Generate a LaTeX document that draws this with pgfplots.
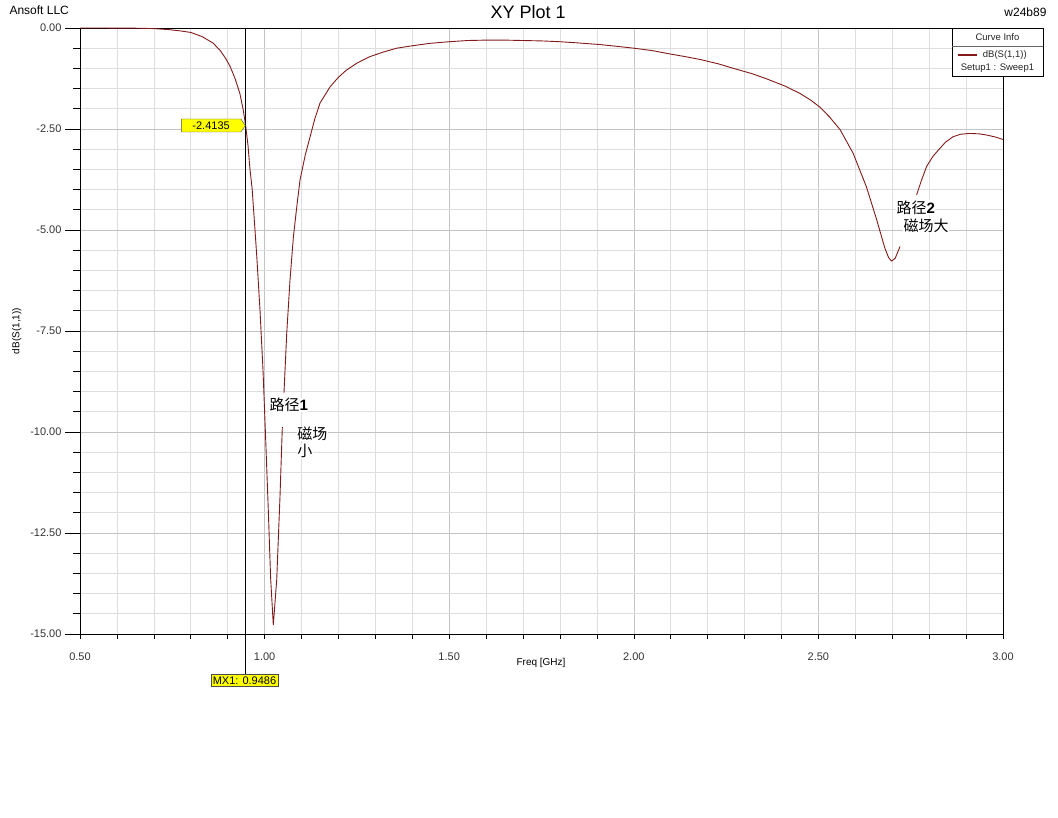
\documentclass[border=0pt]{standalone}
\usepackage{pgfplots}
\usepackage{pgfplotstable}
\pgfplotsset{compat=1.18}
\usepackage{fontspec}
\setmainfont{Liberation Sans}
\newfontfamily\cjk{Noto Sans CJK SC}
\usetikzlibrary{shapes.symbols}
\definecolor{curve}{RGB}{130,26,26}
\definecolor{mgrid}{RGB}{195,195,195}
\definecolor{ngrid}{RGB}{222,222,222}
\definecolor{mkyellow}{RGB}{255,255,0}

\pgfplotstableread{
f db
0.50 0.000
0.55 -0.001
0.60 -0.002
0.65 -0.005
0.70 -0.015
0.74 -0.04
0.77 -0.07
0.80 -0.11
0.83 -0.21
0.86 -0.37
0.88 -0.56
0.895 -0.76
0.906 -0.94
0.92 -1.25
0.933 -1.62
0.942 -2.02
0.9486 -2.4135
0.955 -2.90
0.9604 -3.50
0.966 -3.95
0.974 -5.00
0.9794 -5.74
0.9875 -6.98
0.9957 -8.47
1.003 -10.20
1.010 -11.93
1.0163 -13.61
1.0236 -14.78
1.0328 -13.66
1.0417 -11.60
1.048 -9.88
nan nan
1.0525 -9.03
1.060 -7.55
1.0688 -6.24
1.078 -5.17
1.0875 -4.40
1.096 -3.76
1.110 -3.15
1.123 -2.70
1.136 -2.25
1.150 -1.86
1.177 -1.46
1.200 -1.22
1.222 -1.04
1.250 -0.87
1.285 -0.71
1.320 -0.60
1.358 -0.50
1.400 -0.44
1.448 -0.38
1.500 -0.34
1.550 -0.31
1.600 -0.30
1.650 -0.30
1.700 -0.31
1.750 -0.32
1.800 -0.34
1.850 -0.37
1.908 -0.41
1.950 -0.45
2.000 -0.50
2.050 -0.56
2.090 -0.63
2.140 -0.71
2.180 -0.78
2.230 -0.89
2.270 -1.00
2.320 -1.13
2.360 -1.26
2.410 -1.44
2.450 -1.62
2.480 -1.79
2.504 -1.96
2.530 -2.20
2.559 -2.52
2.594 -3.10
2.630 -3.93
2.658 -4.75
2.680 -5.45
2.690 -5.68
2.698 -5.77
2.708 -5.70
2.721 -5.41
nan nan
2.766 -4.13
2.780 -3.75
2.793 -3.43
2.810 -3.18
2.829 -2.98
2.845 -2.82
2.865 -2.69
2.885 -2.63
2.910 -2.61
2.935 -2.62
2.956 -2.65
2.980 -2.70
3.000 -2.76
}\curvedata

\begin{document}
\begin{tikzpicture}
\path[use as bounding box] (0,0) rectangle (1058pt,818pt);
\begin{axis}[
  at={(80pt,184pt)}, anchor=south west,
  scale only axis, width=923pt, height=606pt,
  xmin=0.5, xmax=3, ymin=-15, ymax=0,
  xtick={0.5,1,...,3}, ytick={-15,-12.5,...,0},
  minor x tick num=4, minor y tick num=4,
  xtick pos=lower, ytick pos=left,
  grid=both,
  major grid style={mgrid, line width=0.6pt},
  minor grid style={ngrid, line width=0.6pt},
  tick align=outside,
  major tick length=15pt, minor tick length=7pt,
  xtick style={black, line width=0.6pt, /pgfplots/major tick length=5pt, /pgfplots/minor tick length=5pt},
  ytick style={black, line width=0.6pt},
  axis line style={black, line width=0.9pt},
  xticklabel style={/pgf/number format/.cd, fixed, fixed zerofill, precision=2, assume math mode=true},
  yticklabel style={/pgf/number format/.cd, fixed, fixed zerofill, precision=2, assume math mode=true},
  ticklabel style={font=\fontsize{11}{13}\selectfont, text=black!80},
  scaled ticks=false,
  xlabel={Freq [GHz]},
  xlabel style={at={(axis description cs:0.4995,-0.047)}, anchor=center, font=\fontsize{10}{12}\selectfont},
  ylabel={dB(S(1,1))},
  ylabel style={at={(axis description cs:-0.0685,0.5)}, anchor=center, font=\fontsize{10}{12}\selectfont},
  title={XY Plot 1},
  title style={at={(axis description cs:0.4855,1.0255)}, anchor=center, yshift=-6pt, font=\fontsize{18}{20}\selectfont},
  unbounded coords=jump,
  clip=false,
]
\addplot[curve, line width=0.9pt] table[x=f, y=db] {\curvedata};

% marker line
\draw[black, line width=0.8pt] (axis cs:0.9486,0) -- (axis cs:0.9486,-16.0);
\node[signal, signal to=east, signal pointer angle=110, fill=mkyellow, draw=black!70, line width=0.4pt,
      inner sep=1pt, minimum width=64pt, minimum height=13pt, anchor=east,
      font=\fontsize{11}{12}\selectfont] at (axis cs:0.9486,-2.4135) {-2.4135};
\node[fill=mkyellow, draw=black!70, line width=0.4pt, inner xsep=2pt, inner ysep=2pt, font=\fontsize{11}{12}\selectfont,
      anchor=north] at (axis cs:0.9456,-16.0) {MX1: 0.9486};

% annotations
\node[fill=white, inner sep=0.5pt, anchor=west, font=\fontsize{15}{16}\selectfont] at (axis cs:1.0115,-9.33) {{\cjk 路径}\textbf{1}};
\node[fill=white, inner sep=0.5pt, anchor=west, font=\fontsize{15}{16}\selectfont] at (axis cs:1.087,-10.05) {\cjk 磁场};
\node[fill=white, inner sep=0.5pt, anchor=west, font=\fontsize{15}{16}\selectfont] at (axis cs:1.087,-10.47) {\cjk 小};
\node[fill=white, inner sep=0.5pt, anchor=west, font=\fontsize{15}{16}\selectfont] at (axis cs:2.710,-4.45) {{\cjk 路径}\textbf{2}};
\node[fill=white, inner sep=0.5pt, anchor=west, font=\fontsize{15}{16}\selectfont] at (axis cs:2.729,-4.90) {\cjk 磁场大};

% legend box
\draw[black, fill=white, line width=0.6pt] (axis cs:2.862,0) rectangle (axis cs:3.108,-1.188);
\draw[black!60, line width=0.5pt] (axis cs:2.862,-0.446) -- (axis cs:3.108,-0.446);
\node[font=\fontsize{9.5}{10}\selectfont, text=black!85] at (axis cs:2.985,-0.223) {Curve Info};
\draw[curve, line width=1.6pt] (axis cs:2.878,-0.668) -- (axis cs:2.930,-0.668);
\node[font=\fontsize{9.5}{10}\selectfont, text=black!85, anchor=west] at (axis cs:2.936,-0.668) {dB(S(1,1))};
\node[font=\fontsize{9.5}{10}\selectfont, text=black!85] at (axis cs:2.985,-0.99) {Setup1 : Sweep1};

% corner texts
\node[anchor=west, font=\fontsize{12}{13}\selectfont] at (axis description cs:-0.0802,1.0297) {Ansoft LLC};
\node[anchor=east, font=\fontsize{12}{13}\selectfont] at (axis description cs:1.0509,1.0264) {w24b89};
\end{axis}
\end{tikzpicture}
\end{document}
